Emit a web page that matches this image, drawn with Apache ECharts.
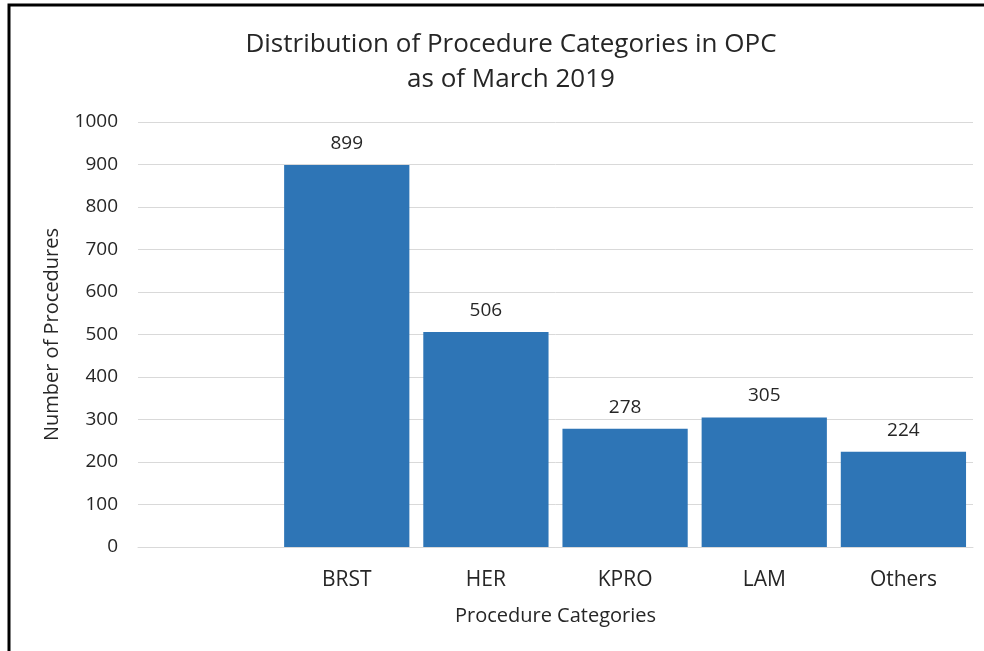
<!DOCTYPE html>
<html>
<head>
    <meta charset="utf-8">
    <title>Distribution of Procedure Categories in OPC</title>
    <script src="https://cdn.jsdelivr.net/npm/echarts@6/dist/echarts.min.js"></script>
    <style>
        html, body { margin: 0; padding: 0; background: #fff; }
    </style>
</head>
<body>
    <div id="main" style="width: 984px; height: 651px;"></div>

    <script>
        // chart data
        var categories = ['', 'BRST', 'HER', 'KPRO', 'LAM', 'Others'];
        var procedureCounts = [null, 899, 506, 278, 305, 224];
        var yTicks = { min: 0, max: 1000, interval: 100 };

        var chartDom = document.getElementById('main');
        var myChart = echarts.init(chartDom);
        var font = '"Open Sans", "Liberation Sans", sans-serif';

        var option = {
            backgroundColor: '#fff',
            animation: false,
            title: {
                text: 'Distribution of Procedure Categories in OPC\nas of March 2019',
                left: 506,
                textAlign: 'center',
                top: 22,
                textStyle: {
                    fontFamily: font,
                    fontSize: 26,
                    fontWeight: 'normal',
                    color: '#262626',
                    lineHeight: 35
                }
            },
            graphic: [
                {
                    type: 'polyline',
                    shape: { points: [[9, 660], [9, 5], [990, 5]] },
                    style: { stroke: '#000', lineWidth: 3, fill: null }
                }
            ],
            grid: {
                left: 138,
                right: 11,
                top: 122,
                bottom: 104
            },
            xAxis: {
                type: 'category',
                data: categories,
                name: 'Procedure Categories',
                nameLocation: 'middle',
                nameGap: 59,
                nameTextStyle: {
                    fontFamily: font,
                    fontSize: 20,
                    color: '#262626'
                },
                axisLine: { lineStyle: { color: '#d9d9d9', width: 1 } },
                axisTick: { show: false },
                axisLabel: {
                    margin: 23,
                    fontFamily: font,
                    fontSize: 21,
                    color: '#262626'
                }
            },
            yAxis: {
                type: 'value',
                min: yTicks.min,
                max: yTicks.max,
                interval: yTicks.interval,
                name: 'Number of Procedures',
                nameLocation: 'middle',
                nameGap: 76,
                nameTextStyle: {
                    fontFamily: font,
                    fontSize: 20,
                    color: '#262626'
                },
                axisLine: { show: false },
                axisTick: { show: false },
                splitLine: { lineStyle: { color: '#d9d9d9', width: 1 } },
                axisLabel: {
                    margin: 20,
                    fontFamily: font,
                    fontSize: 19,
                    color: '#262626',
                    formatter: function (v) { return String(v); }
                }
            },
            series: [
                {
                    name: 'Procedures',
                    type: 'bar',
                    data: procedureCounts,
                    barCategoryGap: '10%',
                    itemStyle: { color: '#2e75b6' },
                    label: {
                        show: true,
                        position: 'top',
                        distance: 12,
                        fontFamily: font,
                        fontSize: 19,
                        color: '#262626'
                    }
                }
            ]
        };

        myChart.setOption(option);
    </script>
</body>
</html>
